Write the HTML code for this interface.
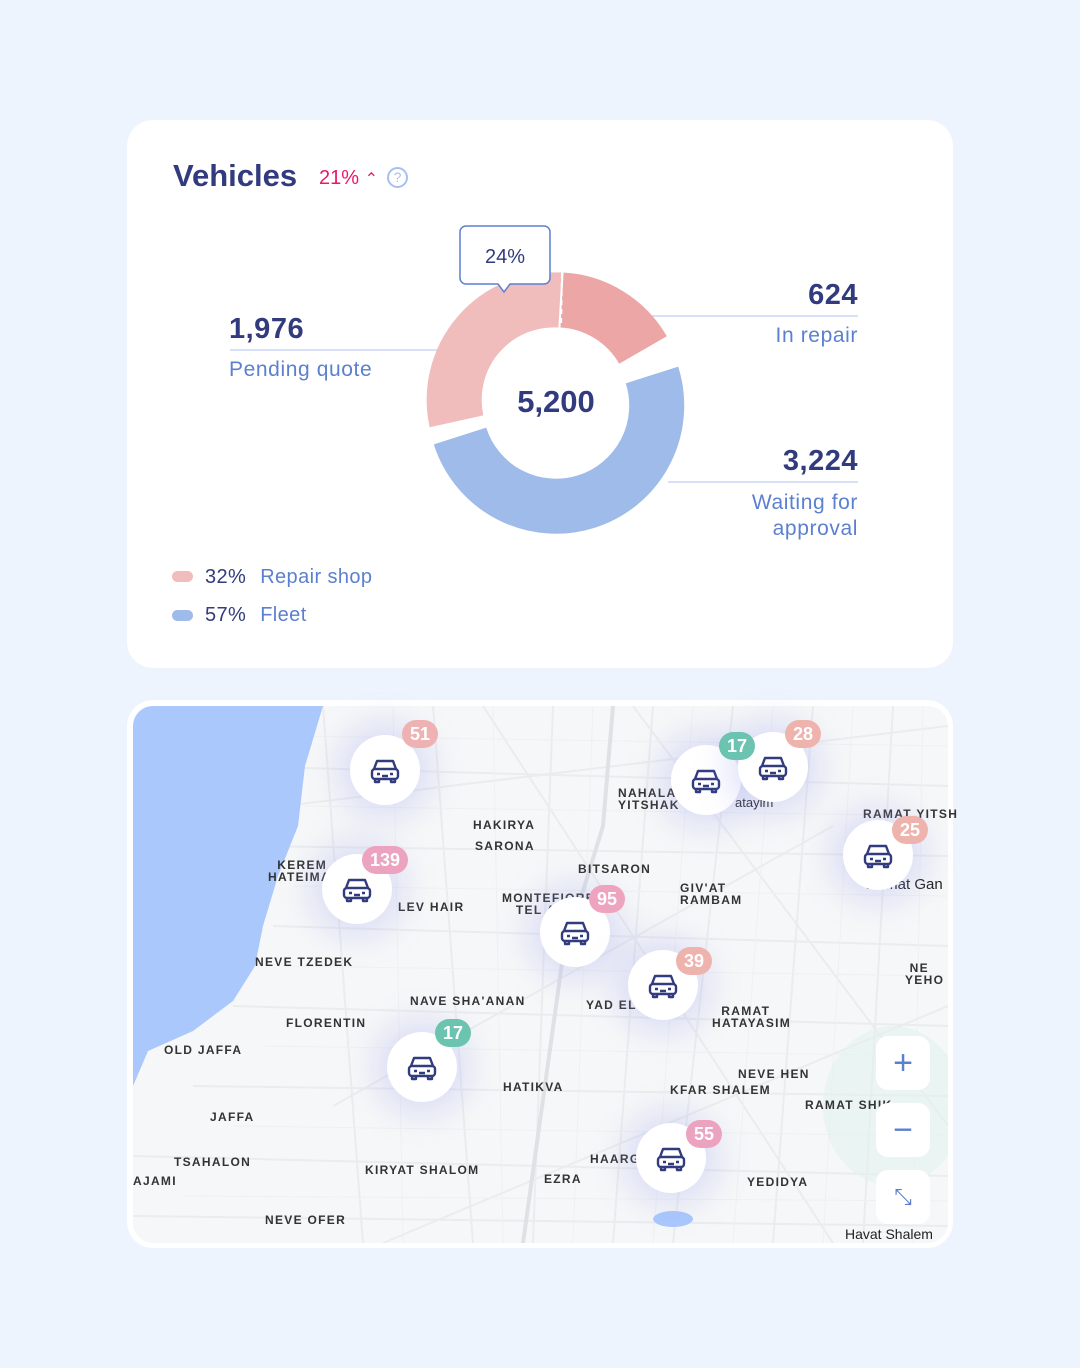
<!DOCTYPE html>
<html><head><meta charset="utf-8"><style>
*{margin:0;padding:0;box-sizing:border-box}
body{width:1080px;height:1368px;background:#eef4fe;font-family:"Liberation Sans",sans-serif;position:relative;overflow:hidden}
.card{position:absolute;background:#fff;border-radius:26px}
.t{position:absolute;white-space:nowrap}
.num{color:#323b7e;font-weight:bold;font-size:29px;letter-spacing:0.5px}
.lab{color:#5c80cf;font-size:21px;letter-spacing:0.6px}
.ml{position:absolute;font-size:12px;font-weight:bold;letter-spacing:1.3px;color:#333;white-space:nowrap}
.mk{position:absolute;width:70px;height:70px;border-radius:50%;background:#fff;box-shadow:0 0 30px 14px rgba(150,160,240,.25);display:flex;align-items:center;justify-content:center}
.bd{position:absolute;height:28px;border-radius:14px;color:#fff;font-weight:bold;font-size:18px;display:flex;align-items:center;justify-content:center;padding:0 8px;transform:translate(-50%,-50%)}
.btn{position:absolute;left:876px;width:54px;height:54px;background:#fff;border-radius:12px;color:#5c80cf;font-size:34px;display:flex;align-items:center;justify-content:center}
</style></head><body>
<div class="card" style="left:127px;top:120px;width:826px;height:548px"></div>
<div class="t" style="left:173px;top:158px;font-size:31px;font-weight:bold;color:#323b7e">Vehicles</div>
<div class="t" style="left:319px;top:167px;font-size:20px;color:#e8196a">21% <span style="font-size:16px">⌃</span></div>
<div class="t" style="left:387px;top:167px;width:21px;height:21px;border:2px solid #a9bff0;border-radius:50%;color:#a9bff0;font-size:14px;text-align:center;line-height:17px">?</div>

<svg style="position:absolute;left:0;top:0" width="1080" height="700">
<line x1="230" y1="350" x2="440" y2="350" stroke="#c8d7f7" stroke-width="1.5"/>
<line x1="640" y1="316" x2="858" y2="316" stroke="#c8d7f7" stroke-width="1.5"/>
<line x1="668" y1="482" x2="858" y2="482" stroke="#c8d7f7" stroke-width="1.5"/>
<g fill="none" stroke-width="55">
<path d="M456.5 421.3 A100 100 0 0 1 560 300" stroke="#f1bcbc"/>
<path d="M562 300 A100 100 0 0 1 643 350" stroke="#eda6a6"/>
<path d="M652 375 A100 100 0 1 1 460 436" stroke="#9fbbea"/>
</g>
<line x1="562" y1="273" x2="561" y2="327" stroke="#fff" stroke-width="2" stroke-dasharray="5 4"/>
<path d="M466 226 h78 a6 6 0 0 1 6 6 v46 a6 6 0 0 1 -6 6 h-34 l-6 8 l-6 -8 h-32 a6 6 0 0 1 -6 -6 v-46 a6 6 0 0 1 6 -6z" fill="#fff" stroke="#5c80cf" stroke-width="1.5"/>
<text x="505" y="263" text-anchor="middle" font-family="Liberation Sans" font-size="20" fill="#323b7e">24%</text>
<text x="556" y="412" text-anchor="middle" font-family="Liberation Sans" font-size="31" font-weight="bold" fill="#323b7e">5,200</text>
</svg>
<div class="t num" style="left:229px;top:313px">1,976</div>
<div class="t lab" style="left:229px;top:358px">Pending quote</div>
<div class="t num" style="right:222px;top:279px">624</div>
<div class="t lab" style="right:222px;top:324px">In repair</div>
<div class="t num" style="right:222px;top:445px">3,224</div>
<div class="t lab" style="right:222px;top:490px;text-align:right;line-height:26px">Waiting for<br>approval</div>
<div class="t" style="left:172px;top:571px;width:21px;height:11px;border-radius:6px;background:#f1bcbc"></div>
<div class="t" style="left:205px;top:566px;font-size:20px;color:#323b7e;letter-spacing:0.4px">32% <span style="color:#5c80cf;margin-left:8px">Repair shop</span></div>
<div class="t" style="left:172px;top:610px;width:21px;height:11px;border-radius:6px;background:#9fbbea"></div>
<div class="t" style="left:205px;top:604px;font-size:20px;color:#323b7e;letter-spacing:0.4px">57% <span style="color:#5c80cf;margin-left:8px">Fleet</span></div>

<div class="card" style="left:127px;top:700px;width:826px;height:548px"></div>
<div style="position:absolute;left:133px;top:706px;width:815px;height:537px;border-radius:20px;overflow:hidden;background:#f6f7f8">
<svg width="815" height="537" style="position:absolute;left:0;top:0">
<g stroke="#eaecee" stroke-width="2" fill="none">
<path d="M190 0 L230 537 M300 0 L340 537 M420 0 L400 537 M520 0 L480 537 M600 0 L540 537 M680 0 L640 537 M760 0 L730 537"/>
<path d="M100 60 L815 80 M120 140 L815 150 M140 220 L815 240 M100 300 L815 320 M60 380 L815 390 M0 450 L815 470 M0 510 L815 520"/>
<path d="M150 100 L815 20 M200 400 L700 120 M250 537 L815 300 M350 0 L700 537 M500 0 L815 420"/>
</g>
<g stroke="#eef0f2" stroke-width="1" fill="none">
<path d="M160 30 L815 40 M170 100 L815 110 M160 180 L815 190 M150 260 L815 270 M130 340 L815 350 M100 420 L815 430 M50 490 L815 495"/>
<path d="M260 0 L270 537 M360 0 L370 537 M460 0 L440 537 M560 0 L520 537 M640 0 L600 537 M720 0 L690 537 M790 0 L780 537"/>
</g>
<path d="M480 0 L470 120 L430 250 L390 537" stroke="#dfe1e5" stroke-width="4" fill="none"/>
<path d="M0 0 H190 L172 60 L165 120 L145 170 L130 220 L122 260 L100 295 L60 325 L15 345 L0 380Z" fill="#aac8fc"/>
<ellipse cx="540" cy="513" rx="20" ry="8" fill="#aac8fc"/>
<ellipse cx="760" cy="400" rx="70" ry="80" fill="#e3f2ee" opacity=".6"/>
</svg>
</div>
<div class="ml" style="left:618px;top:787px;line-height:12px">NAHALAT<br>YITSHAK</div>
<div class="ml" style="left:473px;top:818px">HAKIRYA</div>
<div class="ml" style="left:475px;top:839px">SARONA</div>
<div class="ml" style="left:578px;top:862px">BITSARON</div>
<div class="ml" style="left:268px;top:859px;line-height:12px">&nbsp;&nbsp;KEREM<br>HATEIMA</div>
<div class="ml" style="left:398px;top:900px">LEV HAIR</div>
<div class="ml" style="left:502px;top:892px;line-height:12px">MONTEFIORE<br>&nbsp;&nbsp;&nbsp;TEL A</div>
<div class="ml" style="left:680px;top:882px;line-height:12px">GIV'AT<br>RAMBAM</div>
<div class="ml" style="left:863px;top:807px">RAMAT YITSH</div>
<div class="t" style="left:866px;top:876px;font-size:15px;color:#222">Ramat Gan</div>
<div class="t" style="left:735px;top:795px;font-size:13px;color:#222">atayim</div>
<div class="ml" style="left:255px;top:955px">NEVE TZEDEK</div>
<div class="ml" style="left:410px;top:994px">NAVE SHA'ANAN</div>
<div class="ml" style="left:586px;top:998px">YAD ELI</div>
<div class="ml" style="left:712px;top:1005px;line-height:12px">&nbsp;&nbsp;RAMAT<br>HATAYASIM</div>
<div class="ml" style="left:905px;top:962px;line-height:12px">&nbsp;NE<br>YEHO</div>
<div class="ml" style="left:286px;top:1016px">FLORENTIN</div>
<div class="ml" style="left:164px;top:1043px">OLD JAFFA</div>
<div class="ml" style="left:503px;top:1080px">HATIKVA</div>
<div class="ml" style="left:738px;top:1067px">NEVE HEN</div>
<div class="ml" style="left:670px;top:1083px">KFAR SHALEM</div>
<div class="ml" style="left:805px;top:1098px">RAMAT SHIK</div>
<div class="ml" style="left:210px;top:1110px">JAFFA</div>
<div class="ml" style="left:174px;top:1155px">TSAHALON</div>
<div class="ml" style="left:133px;top:1174px">AJAMI</div>
<div class="ml" style="left:365px;top:1163px">KIRYAT SHALOM</div>
<div class="ml" style="left:590px;top:1152px">HAARGA</div>
<div class="ml" style="left:544px;top:1172px">EZRA</div>
<div class="ml" style="left:747px;top:1175px">YEDIDYA</div>
<div class="ml" style="left:265px;top:1213px">NEVE OFER</div>
<div class="t" style="left:845px;top:1226px;font-size:14px;color:#222">Havat Shalem</div>

<svg width="0" height="0" style="position:absolute"><defs><g id="car" fill="none" stroke="#323b7e" stroke-width="2.4" stroke-linejoin="round"><path d="M5 13 L8 5 H24 L27 13"/><rect x="3" y="13" width="26" height="10" rx="3"/><path d="M6 23 v3 h4 v-3 M22 23 v3 h4 v-3 M8 18 h3 M21 18 h3 M13 20 h6"/></g></defs></svg>
<div class="mk" style="left:350px;top:735px"><svg width="32" height="28"><use href="#car"/></svg></div>
<div class="mk" style="left:322px;top:854px"><svg width="32" height="28"><use href="#car"/></svg></div>
<div class="mk" style="left:540px;top:897px"><svg width="32" height="28"><use href="#car"/></svg></div>
<div class="mk" style="left:671px;top:745px"><svg width="32" height="28"><use href="#car"/></svg></div>
<div class="mk" style="left:738px;top:732px"><svg width="32" height="28"><use href="#car"/></svg></div>
<div class="mk" style="left:843px;top:820px"><svg width="32" height="28"><use href="#car"/></svg></div>
<div class="mk" style="left:628px;top:950px"><svg width="32" height="28"><use href="#car"/></svg></div>
<div class="mk" style="left:387px;top:1032px"><svg width="32" height="28"><use href="#car"/></svg></div>
<div class="mk" style="left:636px;top:1123px"><svg width="32" height="28"><use href="#car"/></svg></div>
<div class="bd" style="left:420px;top:734px;background:#efb2b2">51</div>
<div class="bd" style="left:385px;top:860px;background:#eba3bf">139</div>
<div class="bd" style="left:607px;top:899px;background:#eea3be">95</div>
<div class="bd" style="left:737px;top:746px;background:#6cc3b0">17</div>
<div class="bd" style="left:803px;top:734px;background:#efb3ad">28</div>
<div class="bd" style="left:910px;top:830px;background:#efb3ad">25</div>
<div class="bd" style="left:694px;top:961px;background:#efb3ad">39</div>
<div class="bd" style="left:453px;top:1033px;background:#6cc3b0">17</div>
<div class="bd" style="left:704px;top:1134px;background:#eba3bf">55</div>
<div class="btn" style="top:1036px">+</div>
<div class="btn" style="top:1103px">−</div>
<div class="btn" style="top:1170px;font-size:22px">⤡</div>
</body></html>
